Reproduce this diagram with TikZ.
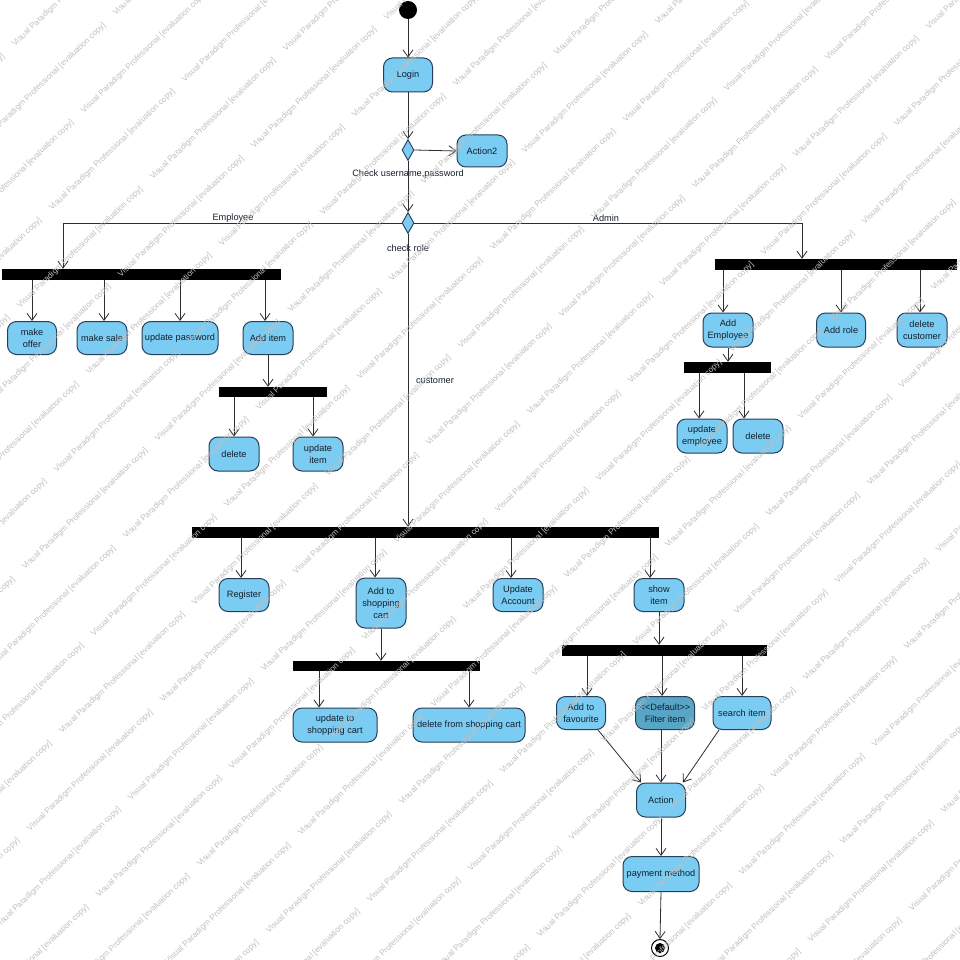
\documentclass[tikz,border=0pt]{standalone}
\usepackage{fontspec}
\setmainfont{Liberation Sans}
\usetikzlibrary{arrows.meta,shapes.geometric}
\definecolor{actfill}{RGB}{122,204,242}
\definecolor{actdark}{RGB}{88,165,198}
\definecolor{actline}{RGB}{38,62,88}
\definecolor{flowline}{RGB}{45,45,45}
\definecolor{wmark}{RGB}{192,192,192}
\definecolor{txt}{RGB}{20,30,45}

% arrow from a fork bar down to an action, optionally shifted sideways
\newcommand\forkto[3]{%
  \path ([xshift=#3pt]#2.north) coordinate (#2-in);
  \draw[arr] (#2-in |- #1.south) -- (#2-in);}

\begin{document}
\begin{tikzpicture}[x=1pt,y=-1pt,
  every node/.style={font=\fontsize{9.2}{12}\selectfont, text=txt},
  act/.style={draw=actline, fill=actfill, line width=1pt, rounded corners=9pt,
    align=center, inner sep=1pt, minimum width=50pt, minimum height=33pt},
  actdk/.style={act, fill=actdark},
  dec/.style={diamond, draw=actline, fill=actfill, line width=0.9pt, inner sep=0pt,
    minimum width=12pt, minimum height=21pt},
  bar/.style={fill=black, draw=none, inner sep=0pt},
  arr/.style={draw=flowline, line width=0.8pt, -{Straight Barb[length=7pt,width=10pt]}},
  lbl/.style={inner sep=1pt},
  wm/.style={font=\fontsize{8.2}{10}\selectfont, text=wmark, rotate=44,
    anchor=base west, inner sep=0pt}]
\useasboundingbox (0,0) rectangle (960,960);
\fill[white] (0,0) rectangle (960,960);

% ---- start, login and checks
\node[circle, fill=black, minimum size=18pt, inner sep=0pt] (init) at (408,10) {};
\node[act, minimum width=49pt, minimum height=34pt] (login) at (408,75) {Login};
\node[dec] (dec1) at (408,150) {};
\node[act, minimum height=32pt] (act2) at (482,151) {Action2};
\node[lbl] (lblCheck) at (408,174) {Check username,password};
\node[dec] (dec2) at (408,223) {};
\node[lbl] (lblRole) at (408,248) {check role};

\draw[arr] (init) -- (login.north);
\draw[arr] (login.south) -- (dec1.north);
\draw[arr] (dec1.east) -- (act2.west);
\draw[arr] (dec1.south) -- (dec2.north);

% ---- employee branch
\coordinate (empx) at (63,0);
\node[bar, minimum width=279pt, minimum height=11pt] (barE) at (141.5,274.5) {};
\node[act, minimum width=49pt] (offer) at (32,338) {make\\offer};
\node[act] (sale) at (102,338) {make sale};
\node[act, minimum width=76pt] (updpw) at (180,338) {update password};
\node[act] (additem) at (268,338) {Add item};
\node[bar, minimum width=108pt, minimum height=10pt] (barE2) at (273,392) {};
\node[act, minimum height=34pt] (delE) at (234,454) {delete};
\node[act, minimum height=34pt] (upditem) at (318,454) {update\\item};

\draw[arr] (dec2.west) -| (barE.north -| empx);
\node[lbl] (lblEmp) at (233,218) {Employee};
\forkto{barE}{offer}{0}
\forkto{barE}{sale}{2}
\forkto{barE}{updpw}{0}
\forkto{barE}{additem}{-3}
\draw[arr] (additem.south) -- (additem.south |- barE2.north);
\forkto{barE2}{delE}{0}
\forkto{barE2}{upditem}{-5}

% ---- admin branch
\coordinate (admx) at (802,0);
\node[bar, minimum width=242pt, minimum height=11pt] (barA) at (836,264.5) {};
\node[act, minimum height=34pt] (addemp) at (728,330) {Add\\Employee};
\node[act, minimum width=49pt, minimum height=34pt] (addrole) at (841,330) {Add role};
\node[act, minimum height=34pt] (delcust) at (922,330) {delete\\customer};
\node[bar, minimum width=87pt, minimum height=11pt] (barA2) at (727.5,367.5) {};
\node[act, minimum height=34pt] (updemp) at (702,436) {update\\employee};
\node[act, minimum height=34pt] (delA) at (758,436) {delete};

\draw[arr] (dec2.east) -| (barA.north -| admx);
\node[lbl] (lblAdm) at (606,218) {Admin};
\forkto{barA}{addemp}{-5}
\forkto{barA}{addrole}{0}
\forkto{barA}{delcust}{-2}
\draw[arr] (addemp.south) -- (addemp.south |- barA2.north);
\forkto{barA2}{updemp}{-3}
\forkto{barA2}{delA}{-14}

% ---- customer branch
\node[bar, minimum width=467pt, minimum height=11pt] (barC) at (425.5,532.5) {};
\draw[arr] (dec2.south) -- (dec2.south |- barC.north);
\node[lbl] (lblCust) at (435,381) {customer};
\node[act] (register) at (244,595) {Register};
\node[act, minimum height=50pt] (addcart) at (381,603) {Add to\\shopping\\cart};
\node[act] (updacc) at (518,595) {Update\\Account};
\node[act] (showitem) at (659,595) {show\\item};
\forkto{barC}{register}{-3}
\forkto{barC}{addcart}{-6}
\forkto{barC}{updacc}{-7}
\forkto{barC}{showitem}{-9}

\node[bar, minimum width=187pt, minimum height=10pt] (barC2) at (386.5,666) {};
\node[act, minimum width=84pt, minimum height=34pt] (updcart) at (335,725) {update to\\shopping cart};
\node[act, minimum width=112pt, minimum height=34pt] (delcart) at (469,725) {delete from shopping cart};
\draw[arr] (addcart.south) -- (addcart.south |- barC2.north);
\forkto{barC2}{updcart}{-16}
\forkto{barC2}{delcart}{0}

\node[bar, minimum width=205pt, minimum height=11pt] (barS) at (664.5,650.5) {};
\node[act, minimum width=49pt] (fav) at (581,713) {Add to\\favourite};
\node[actdk, minimum width=59pt] (filter) at (665,713) {<{}<Default>{}>\\Filter item};
\node[act, minimum width=58pt] (search) at (742,713) {search item};
\draw[arr] (showitem.south) -- (showitem.south |- barS.north);
\forkto{barS}{fav}{6}
\forkto{barS}{filter}{-3}
\forkto{barS}{search}{0}

\node[act, minimum width=49pt, minimum height=34pt] (action) at (661,800) {Action};
\node[act, minimum width=76pt, minimum height=35pt] (payment) at (661,874) {payment method};
\node[circle, draw=black, line width=1pt, fill=white, minimum size=17pt, inner sep=0pt] (final) at (660,948) {};
\node[circle, fill=black, minimum size=10pt, inner sep=0pt] (finalDot) at (final) {};

\draw[arr] ([xshift=17pt]fav.south) -- ([xshift=-20pt]action.north);
\draw[arr] (filter.south -| action.north) -- (action.north);
\draw[arr] ([xshift=-23pt]search.south) -- ([xshift=22pt]action.north);
\draw[arr] (action.south) -- (payment.north);
\draw[arr] (payment.south) -- (final.north);

% ---- evaluation watermark tiled over the sheet
\begin{scope}
\clip (0,0) rectangle (960,960);
\foreach \k in {-1,...,30}{
  \foreach \j in {-9,...,16}{
    \pgfmathsetmacro\px{15+133*\j-32*\k}
    \pgfmathsetmacro\py{47-128.5*\j+97.5*\k}
    \pgfmathparse{((\px>-200)&&(\px<965)&&(\py>-5)&&(\py<1150))?1:0}
    \ifdim\pgfmathresult pt>0.5pt
      \node[wm] at (\px,\py) {Visual Paradigm Professional [evaluation copy]};
    \fi
  }
}
\end{scope}
\end{tikzpicture}
\end{document}
